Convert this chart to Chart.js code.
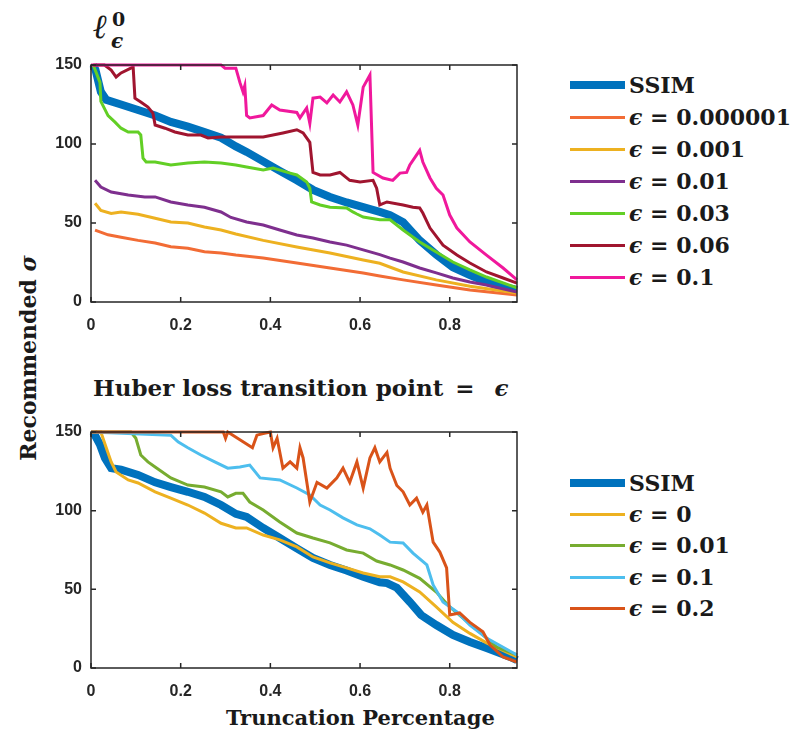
<!DOCTYPE html>
<html>
<head>
<meta charset="utf-8">
<script src="https://cdn.jsdelivr.net/npm/chart.js@4.4.0/dist/chart.umd.min.js"></script>
<style>
  body { margin: 0; background: #fff; width: 797px; height: 735px; position: relative; overflow: hidden; }
  .box { position: absolute; }
  .txt { position: absolute; font-family: "DejaVu Serif", serif; font-weight: bold; color: #1a1a1a; white-space: nowrap; }
  .legend { position: absolute; left: 570px; font-family: "DejaVu Serif", serif; font-weight: bold; font-size: 22px; color: #1a1a1a; }
  .row { position: absolute; left: 0; height: 30px; display: flex; align-items: center; white-space: nowrap; }
  .swatch { width: 55px; margin-right: 4px; }
</style>
</head>
<body>
<div class="txt" style="left:93px;top:6px;font-size:34px;font-style:italic;">ℓ</div>
<div class="txt" style="left:112px;top:8px;font-size:19px;">0</div>
<div class="txt" style="left:111px;top:29px;font-size:20px;font-style:italic;">ϵ</div>
<div class="txt" style="left:93px;top:374px;font-size:23px;">Huber loss transition point<span style="margin-left:12px;">=</span><i style="margin-left:20px;">ϵ</i></div>
<div class="txt" style="left:28px;top:358px;font-size:22px;transform:translate(-50%,-50%) rotate(-90deg);">Recommended <i>σ</i></div>
<div class="txt" style="left:226px;top:705px;font-size:21px;">Truncation Percentage</div>

<div class="box" style="left:0;top:40px;width:540px;height:300px;"><canvas id="top"></canvas></div>
<div class="box" style="left:0;top:410px;width:540px;height:300px;"><canvas id="bottom"></canvas></div>
<div class="legend" id="legTop"></div>
<div class="legend" id="legBottom"></div>

<script>
// ---- top panel: l0 loss, different epsilon ----
const topSsimX = [0.005, 0.01, 0.022, 0.034, 0.067, 0.105, 0.143, 0.178, 0.216, 0.253, 0.29, 0.323, 0.347, 0.384, 0.421, 0.459, 0.495, 0.533, 0.57, 0.607, 0.644, 0.667, 0.696, 0.733, 0.77, 0.807, 0.845, 0.882, 0.919, 0.95]
const topSsimY = [150, 147, 133, 128, 125, 121.5, 118, 114, 111, 107.5, 104, 98.5, 95, 89, 83, 77, 71, 66.5, 63, 60, 57, 55, 50.5, 39, 30, 22, 17, 12.7, 9.5, 7.6]

const topE6X = [0.009, 0.038, 0.067, 0.105, 0.143, 0.178, 0.216, 0.253, 0.29, 0.323, 0.384, 0.459, 0.533, 0.607, 0.644, 0.696, 0.77, 0.845, 0.95]
const topE6Y = [45.5, 42.5, 41, 39, 37.3, 35, 34, 31.8, 31, 29.7, 27.8, 24.7, 21.5, 18.4, 16.5, 14, 10.8, 7.6, 4.4]

const topE3X = [0.009, 0.022, 0.045, 0.067, 0.105, 0.143, 0.178, 0.216, 0.253, 0.29, 0.323, 0.384, 0.459, 0.533, 0.607, 0.644, 0.696, 0.77, 0.845, 0.95]
const topE3Y = [62.5, 58, 56, 57, 55.5, 53, 50.6, 50, 47.5, 45.6, 43, 39, 34.8, 31, 26.6, 24.5, 19, 14, 10, 5.7]

const topE01X = [0.009, 0.022, 0.045, 0.083, 0.12, 0.143, 0.178, 0.216, 0.253, 0.29, 0.312, 0.347, 0.384, 0.421, 0.459, 0.495, 0.533, 0.57, 0.607, 0.644, 0.667, 0.696, 0.733, 0.77, 0.807, 0.845, 0.882, 0.95]
const topE01Y = [77, 72.8, 69.6, 67.7, 66.5, 66.5, 63.3, 61.4, 60, 57, 53.5, 50.6, 48.7, 45.6, 42.4, 40.5, 38, 36, 33, 30, 27.8, 25.3, 21.5, 18.4, 15.2, 12.7, 10.8, 6.3]

const topE03X = [0.005, 0.02, 0.022, 0.038, 0.053, 0.067, 0.083, 0.105, 0.111, 0.116, 0.123, 0.143, 0.178, 0.216, 0.253, 0.29, 0.323, 0.347, 0.384, 0.406, 0.444, 0.459, 0.481, 0.488, 0.492, 0.511, 0.533, 0.57, 0.584, 0.593, 0.607, 0.644, 0.667, 0.696, 0.733, 0.77, 0.807, 0.845, 0.882, 0.95]
const topE03Y = [150, 139, 127, 118, 114, 110, 107.6, 107.6, 105.7, 91, 88.6, 88.6, 86.7, 88, 88.6, 88, 86.7, 85.4, 83.5, 84.8, 81.6, 80.4, 76, 72, 63.3, 61.4, 60, 59.5, 57, 55.7, 53.8, 52, 52, 45.6, 38, 31.6, 25.3, 20.3, 15.8, 8.9]

const topE06X = [0.005, 0.03, 0.045, 0.056, 0.067, 0.089, 0.094, 0.098, 0.111, 0.127, 0.138, 0.143, 0.165, 0.187, 0.216, 0.245, 0.261, 0.29, 0.323, 0.384, 0.428, 0.459, 0.473, 0.488, 0.495, 0.511, 0.533, 0.555, 0.577, 0.6, 0.629, 0.637, 0.644, 0.66, 0.696, 0.718, 0.733, 0.74, 0.756, 0.785, 0.816, 0.845, 0.882, 0.919, 0.95]
const topE06Y = [150, 150, 146.8, 142.4, 145, 148, 148.7, 129, 126.6, 123.4, 119.6, 112, 110, 107.6, 105.7, 105.7, 103.8, 104.4, 104.4, 104.4, 107, 109, 107, 101, 82, 80.4, 80.4, 82, 77, 76, 77, 72, 61.4, 63.3, 61.4, 60, 59.5, 56.3, 46.8, 36, 29.7, 24.7, 19, 15.2, 12]

const topE1X = [0, 0.29, 0.299, 0.323, 0.332, 0.339, 0.343, 0.347, 0.354, 0.384, 0.403, 0.421, 0.459, 0.466, 0.481, 0.488, 0.495, 0.511, 0.526, 0.54, 0.555, 0.57, 0.584, 0.595, 0.607, 0.622, 0.629, 0.651, 0.673, 0.689, 0.704, 0.711, 0.733, 0.74, 0.756, 0.77, 0.785, 0.8, 0.816, 0.845, 0.882, 0.919, 0.95]
const topE1Y = [150, 150, 148, 148, 139, 133, 137, 118, 116.5, 118, 124.7, 121.5, 120, 116.5, 122.8, 113, 129, 129.7, 126, 131, 126.6, 133, 124.7, 112, 136, 143.7, 82, 78.5, 77, 81.6, 82, 86.7, 96, 88.6, 78.5, 72, 67.7, 55, 46.8, 38, 29.7, 21.5, 14]

// ---- bottom panel: Huber loss ----
const botSsimX = [0.005, 0.02, 0.031, 0.045, 0.067, 0.105, 0.143, 0.178, 0.216, 0.253, 0.29, 0.323, 0.347, 0.384, 0.421, 0.459, 0.495, 0.533, 0.57, 0.607, 0.644, 0.66, 0.682, 0.711, 0.736, 0.77, 0.807, 0.845, 0.882, 0.935, 0.95]
const botSsimY = [150, 142, 133.5, 127, 126, 122.7, 118, 115, 112, 108.7, 103.6, 98, 96, 89, 82.6, 76, 70, 65.5, 62, 58, 54.5, 54, 51, 42, 33.7, 27.3, 21, 16.5, 12.7, 7, 5]

const botH0X = [0, 0.022, 0.034, 0.045, 0.056, 0.083, 0.105, 0.143, 0.178, 0.216, 0.253, 0.29, 0.323, 0.347, 0.384, 0.421, 0.459, 0.495, 0.533, 0.57, 0.607, 0.644, 0.667, 0.696, 0.733, 0.77, 0.807, 0.845, 0.882, 0.95]
const botH0Y = [150, 150, 140, 131, 124.6, 119.5, 117.6, 112, 108, 103.6, 98.5, 92, 89, 89, 84.5, 81.4, 77, 70.6, 66.8, 63.6, 60.4, 58, 58, 54.7, 48.3, 38.8, 29, 22, 16, 7]

const botH01X = [0, 0.089, 0.1, 0.111, 0.127, 0.143, 0.178, 0.216, 0.253, 0.29, 0.305, 0.323, 0.339, 0.354, 0.384, 0.421, 0.459, 0.495, 0.533, 0.57, 0.607, 0.637, 0.667, 0.696, 0.733, 0.77, 0.8, 0.829, 0.874, 0.905, 0.95]
const botH01Y = [150, 150, 146, 135.4, 131, 127.8, 120.8, 116.3, 115, 112, 108.7, 111, 111, 105.5, 100.4, 92.8, 85.8, 82.6, 79.5, 75, 73, 68, 65.5, 62.3, 57, 48.3, 38.8, 31.8, 21, 13.3, 8.3]

const botH1X = [0, 0.178, 0.194, 0.216, 0.245, 0.276, 0.305, 0.332, 0.354, 0.377, 0.421, 0.459, 0.488, 0.511, 0.533, 0.562, 0.593, 0.622, 0.644, 0.667, 0.696, 0.718, 0.749, 0.763, 0.785, 0.816, 0.845, 0.882, 0.95]
const botH1Y = [150, 148, 143.7, 140, 135.4, 131, 127, 127.8, 129, 120.8, 119.5, 114.4, 110, 103.6, 100.4, 95.4, 91, 88.5, 84.5, 80, 79.5, 73, 65.5, 52.8, 42, 35.6, 27.3, 19, 8.3]

const botH2X = [0, 0.295, 0.3, 0.305, 0.36, 0.37, 0.384, 0.4, 0.406, 0.415, 0.428, 0.444, 0.459, 0.466, 0.473, 0.488, 0.504, 0.526, 0.548, 0.562, 0.577, 0.593, 0.607, 0.622, 0.633, 0.644, 0.66, 0.667, 0.682, 0.696, 0.711, 0.726, 0.74, 0.749, 0.763, 0.778, 0.793, 0.8, 0.822, 0.845, 0.874, 0.89, 0.919, 0.95]
const botH2Y = [150, 150, 146, 150, 140, 148, 149, 150, 140, 146, 127, 131, 127, 140, 133.5, 105.5, 118, 114.4, 120.8, 127, 118, 131, 114.4, 133.5, 140, 131, 137, 127, 116, 112, 103.6, 108, 99, 103.6, 80, 73.7, 63.6, 33.7, 35, 29, 23, 14.6, 7, 3.8]

const xTicks = [0, 0.2, 0.4, 0.6, 0.8]
const yTicks = [0, 50, 100, 150]

const pts = (xs, ys) => xs.map((x, i) => ({ x: x, y: ys[i] }))

function series(label, xs, ys, color, width, order) {
  return {
    label: label,
    data: pts(xs, ys),
    borderColor: color,
    backgroundColor: color,
    borderWidth: width,
    pointRadius: 0,
    tension: 0,
    fill: false,
    clip: 5,
    order: order,
  }
}

// MATLAB style box with ticks pointing inwards
const boxPlugin = {
  id: 'matlabBox',
  afterDatasetsDraw(chart) {
    const { ctx, chartArea: a, scales } = chart
    ctx.save()
    ctx.strokeStyle = '#262626'
    ctx.lineWidth = 1.5
    ctx.strokeRect(a.left, a.top, a.right - a.left, a.bottom - a.top)
    ctx.beginPath()
    xTicks.forEach(v => {
      const px = scales.x.getPixelForValue(v)
      ctx.moveTo(px, a.bottom); ctx.lineTo(px, a.bottom - 5)
      ctx.moveTo(px, a.top); ctx.lineTo(px, a.top + 5)
    })
    yTicks.forEach(v => {
      const py = scales.y.getPixelForValue(v)
      ctx.moveTo(a.left, py); ctx.lineTo(a.left + 5, py)
      ctx.moveTo(a.right, py); ctx.lineTo(a.right - 5, py)
    })
    ctx.stroke()
    ctx.restore()
  }
}

function makeChart(id, datasets, padTop, xHeight) {
  const tickFont = { family: '"Liberation Sans", Arial, sans-serif', size: 16, weight: 'bold' }
  return new Chart(document.getElementById(id), {
    type: 'line',
    data: { datasets: datasets },
    plugins: [boxPlugin],
    options: {
      responsive: true,
      maintainAspectRatio: false,
      animation: false,
      layout: { padding: { top: padTop, right: 23, left: 0, bottom: 0 } },
      scales: {
        x: {
          type: 'linear', min: 0, max: 0.95,
          grid: { display: false, drawTicks: false },
          border: { display: false },
          afterFit: (s) => { s.height = xHeight },
          afterBuildTicks: (s) => { s.ticks = xTicks.map(v => ({ value: v })) },
          ticks: { font: tickFont, color: '#262626', padding: 14, maxRotation: 0, callback: (v) => String(v) },
        },
        y: {
          type: 'linear', min: 0, max: 150,
          grid: { display: false, drawTicks: false },
          border: { display: false },
          afterFit: (s) => { s.width = 91 },
          afterBuildTicks: (s) => { s.ticks = yTicks.map(v => ({ value: v })) },
          ticks: { font: tickFont, color: '#262626', padding: 9 },
        },
      },
      plugins: { legend: { display: false }, tooltip: { enabled: false } },
    },
  })
}

const topSets = [
  series('SSIM', topSsimX, topSsimY, '#0072BD', 8, 10),
  series('ϵ = 0.000001', topE6X, topE6Y, '#F26C35', 3, 6),
  series('ϵ = 0.001', topE3X, topE3Y, '#EDB120', 3, 5),
  series('ϵ = 0.01', topE01X, topE01Y, '#7E2F8E', 3, 4),
  series('ϵ = 0.03', topE03X, topE03Y, '#62CF25', 3, 3),
  series('ϵ = 0.06', topE06X, topE06Y, '#A0152F', 3, 2),
  series('ϵ = 0.1', topE1X, topE1Y, '#F0189C', 3, 1),
]
const botSets = [
  series('SSIM', botSsimX, botSsimY, '#0072BD', 8, 10),
  series('ϵ = 0', botH0X, botH0Y, '#EDB120', 3, 4),
  series('ϵ = 0.01', botH01X, botH01Y, '#77AC30', 3, 3),
  series('ϵ = 0.1', botH1X, botH1Y, '#4DBEEE', 3, 2),
  series('ϵ = 0.2', botH2X, botH2Y, '#D95319', 3, 1),
]

makeChart('top', topSets, 25, 38)
makeChart('bottom', botSets, 22, 42)

function legend(id, sets, rows) {
  const el = document.getElementById(id)
  sets.forEach((d, i) => {
    const row = document.createElement('div')
    row.className = 'row'
    row.style.top = (rows[i] - 15) + 'px'
    const sw = document.createElement('div')
    sw.className = 'swatch'
    sw.style.height = (d.borderWidth === 8 ? 8 : 3) + 'px'
    sw.style.background = d.borderColor
    const t = document.createElement('span')
    // math style: italic epsilon, spaced equals sign
    if (d.label.startsWith('ϵ')) {
      const e = document.createElement('i')
      e.textContent = 'ϵ'
      t.appendChild(e)
      t.appendChild(document.createTextNode(' = ' + d.label.split('= ')[1]))
    } else {
      t.textContent = d.label
    }
    row.appendChild(sw)
    row.appendChild(t)
    el.appendChild(row)
  })
}
legend('legTop', topSets, [85, 117, 149, 181, 213, 245, 277])
legend('legBottom', botSets, [483, 514, 545, 577, 608])
</script>
</body>
</html>
